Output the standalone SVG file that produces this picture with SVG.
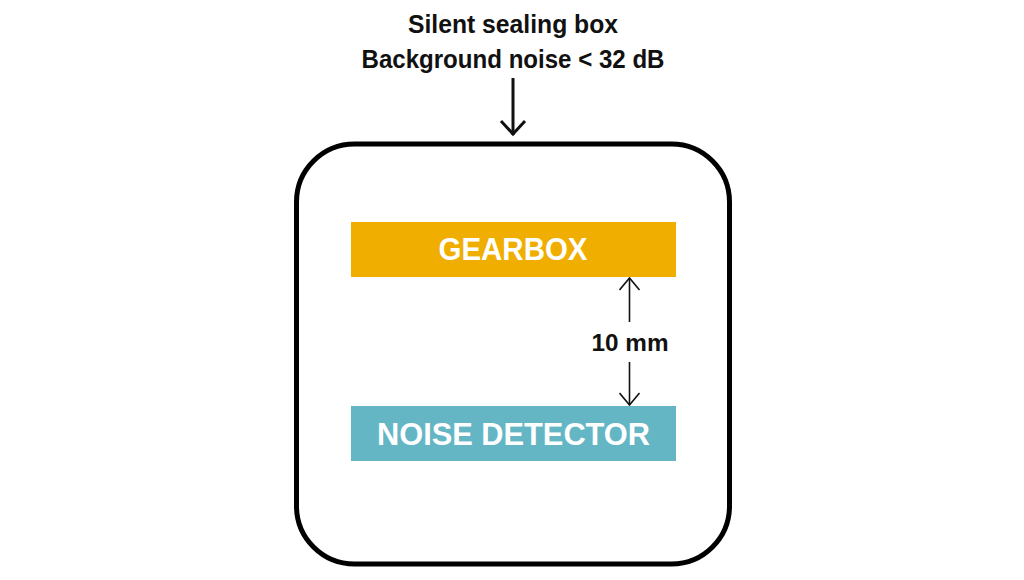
<svg xmlns="http://www.w3.org/2000/svg" width="1024" height="580" viewBox="0 0 1024 580">
<style>
.t{font-family:"Liberation Sans",Arial,sans-serif;font-weight:bold;text-anchor:middle}
.dark{fill:#111}
.white{fill:#fff}
.dim{stroke:#111;stroke-width:1.6;fill:none}
</style>
<defs>
<marker id="openHead" viewBox="0 0 14 22" refX="13" refY="11" markerWidth="14" markerHeight="22" markerUnits="userSpaceOnUse" orient="auto">
<path d="M1,1 L13,11 L1,21" fill="none" stroke="#111" stroke-width="1.6"/>
</marker>
<marker id="bigHead" viewBox="0 0 18 28" refX="16" refY="14" markerWidth="18" markerHeight="28" markerUnits="userSpaceOnUse" orient="auto">
<path d="M2,2 L15,14 L2,26" fill="none" stroke="#111" stroke-width="3"/>
</marker>
</defs>
<rect width="1024" height="580" fill="#fff"/>
<g id="title">
<text class="t dark" x="513" y="33" font-size="25" textLength="210" lengthAdjust="spacingAndGlyphs">Silent sealing box</text>
<text class="t dark" x="513" y="68" font-size="25" textLength="303" lengthAdjust="spacingAndGlyphs">Background noise &lt; 32 dB</text>
</g>
<g id="box">
<rect x="296.5" y="144" width="433" height="420" rx="58" ry="58" fill="none" stroke="#000" stroke-width="5"/>
</g>
<g id="gearbox">
<rect x="351" y="222" width="325" height="55" fill="#F0AE00"/>
<text class="t white" x="513" y="260" font-size="32" textLength="149" lengthAdjust="spacingAndGlyphs">GEARBOX</text>
</g>
<g id="detector">
<rect x="351" y="406" width="325" height="55" fill="#64B6C5"/>
<text class="t white" x="513.5" y="445" font-size="32" textLength="273" lengthAdjust="spacingAndGlyphs">NOISE DETECTOR</text>
</g>
<g id="label">
<text class="t dark" x="630" y="351" font-size="24" textLength="77" lengthAdjust="spacingAndGlyphs">10 mm</text>
</g>
<g id="connectors">
<line x1="513" y1="78" x2="513" y2="135" stroke="#111" stroke-width="3" marker-end="url(#bigHead)"/>
<line class="dim" x1="629.5" y1="322" x2="629.5" y2="278" marker-end="url(#openHead)"/>
<line class="dim" x1="629.5" y1="362" x2="629.5" y2="405" marker-end="url(#openHead)"/>
</g>
</svg>
